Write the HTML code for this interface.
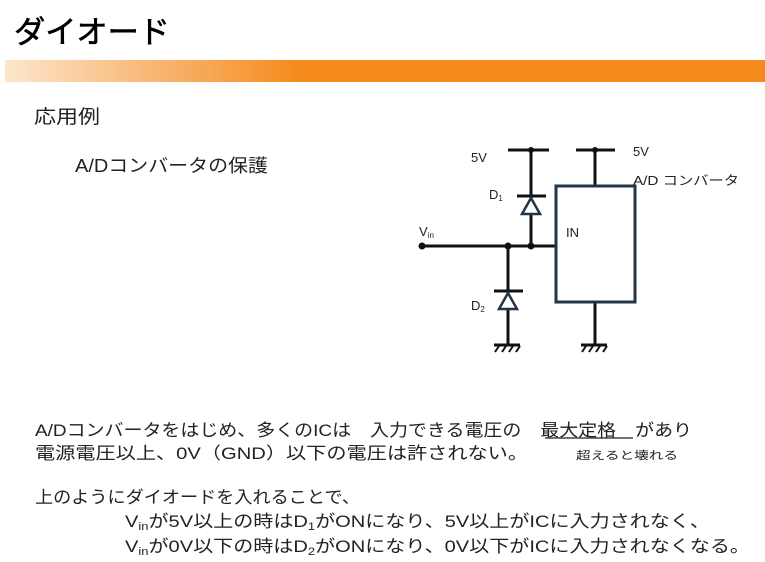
<!DOCTYPE html>
<html><head><meta charset="utf-8"><style>
html,body{margin:0;padding:0;background:#fff;}
svg{display:block;}
text{font-family:"Liberation Sans","Noto Sans CJK JP",sans-serif;fill:#222;}
</style></head><body>
<svg width="765" height="562" viewBox="0 0 765 562" xmlns="http://www.w3.org/2000/svg">
<defs>
<linearGradient id="g" x1="0" x2="1" y1="0" y2="0">
<stop offset="0" stop-color="#fde6cc"/>
<stop offset="0.2" stop-color="#f8b672"/>
<stop offset="0.39" stop-color="#f58a1c"/>
<stop offset="1" stop-color="#f58a1a"/>
</linearGradient>
</defs>
<text x="14" y="43" font-size="31" textLength="156" lengthAdjust="spacingAndGlyphs" style="fill:#000;stroke:#000;stroke-width:0.6">ダイオード</text>
<rect x="5" y="60" width="760" height="22" fill="url(#g)"/>
<text x="34" y="123" font-size="19" textLength="66" lengthAdjust="spacingAndGlyphs">応用例</text>
<text x="75" y="172" font-size="18" textLength="193" lengthAdjust="spacingAndGlyphs">A/Dコンバータの保護</text>

<g stroke="#111" stroke-width="3" fill="none">
<line x1="508" y1="150" x2="549" y2="150"/>
<line x1="576" y1="150" x2="615" y2="150"/>
<line x1="531" y1="150" x2="531" y2="246"/>
<line x1="595" y1="150" x2="595" y2="186"/>
<line x1="422" y1="246" x2="556" y2="246"/>
<line x1="508" y1="246" x2="508" y2="345"/>
<line x1="595" y1="302" x2="595" y2="345"/>
<line x1="517" y1="196" x2="546" y2="196"/>
<line x1="494" y1="291" x2="523" y2="291"/>
<line x1="494" y1="345" x2="520" y2="345"/>
<line x1="581" y1="345" x2="607" y2="345"/>
</g>
<g stroke="#111" stroke-width="2">
<line x1="499" y1="346" x2="495" y2="352"/><line x1="506" y1="346" x2="502" y2="352"/><line x1="513" y1="346" x2="509" y2="352"/><line x1="520" y1="346" x2="516" y2="352"/>
<line x1="586" y1="346" x2="582" y2="352"/><line x1="593" y1="346" x2="589" y2="352"/><line x1="600" y1="346" x2="596" y2="352"/><line x1="607" y1="346" x2="603" y2="352"/>
</g>
<polygon points="531,198 522,214 540,214" fill="#fff" stroke="#243447" stroke-width="2.5"/>
<polygon points="508,293 499,309 517,309" fill="#fff" stroke="#243447" stroke-width="2.5"/>
<rect x="556" y="186" width="79" height="116" fill="#fff" stroke="#243447" stroke-width="3"/>
<g fill="#111">
<circle cx="531" cy="150" r="3"/><circle cx="595" cy="150" r="3"/>
<circle cx="422" cy="246" r="3.5"/><circle cx="508" cy="246" r="3.5"/><circle cx="531" cy="246" r="3.5"/>
</g>
<text x="471" y="162" font-size="13">5V</text>
<text x="633" y="156" font-size="13">5V</text>
<text x="633" y="185" font-size="13" textLength="106" lengthAdjust="spacingAndGlyphs">A/D コンバータ</text>
<text x="566" y="237" font-size="13">IN</text>
<text x="489" y="199" font-size="13">D<tspan font-size="8" dy="2">1</tspan></text>
<text x="471" y="310" font-size="13">D<tspan font-size="8" dy="2">2</tspan></text>
<text x="419" y="236" font-size="13">V<tspan font-size="8" dy="2">in</tspan></text>

<text x="35" y="436" font-size="17" textLength="657" lengthAdjust="spacingAndGlyphs">A/Dコンバータをはじめ、多くのICは　入力できる電圧の　最大定格　があり</text>
<line x1="545" y1="438" x2="633" y2="438" stroke="#222" stroke-width="1.2"/>
<text x="35" y="459" font-size="17" textLength="493" lengthAdjust="spacingAndGlyphs">電源電圧以上、0V（GND）以下の電圧は許されない。</text>
<text x="576" y="459" font-size="11" textLength="102" lengthAdjust="spacingAndGlyphs">超えると壊れる</text>
<text x="35" y="503" font-size="17" textLength="325" lengthAdjust="spacingAndGlyphs">上のようにダイオードを入れることで、</text>
<text x="125" y="527" font-size="17" textLength="585" lengthAdjust="spacingAndGlyphs">V<tspan font-size="11" dy="3">in</tspan><tspan dy="-3">が5V以上の時はD</tspan><tspan font-size="11" dy="3">1</tspan><tspan dy="-3">がONになり、5V以上がICに入力されなく、</tspan></text>
<text x="125" y="552" font-size="17" textLength="625" lengthAdjust="spacingAndGlyphs">V<tspan font-size="11" dy="3">in</tspan><tspan dy="-3">が0V以下の時はD</tspan><tspan font-size="11" dy="3">2</tspan><tspan dy="-3">がONになり、0V以下がICに入力されなくなる。</tspan></text>
</svg>
</body></html>
